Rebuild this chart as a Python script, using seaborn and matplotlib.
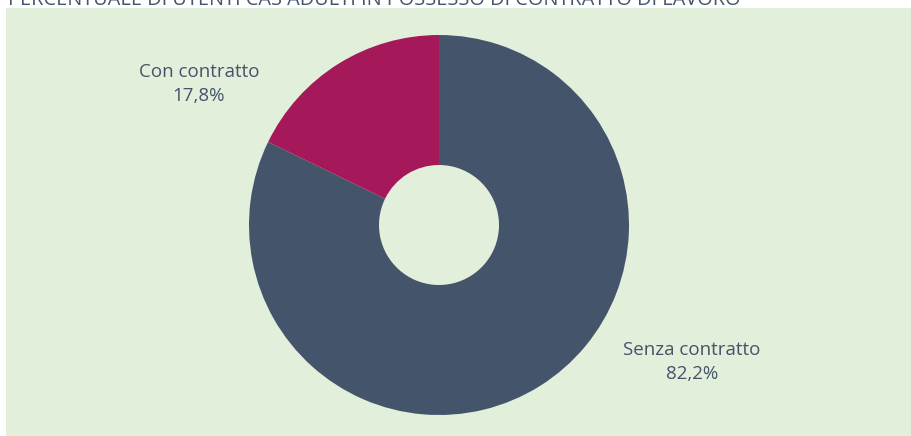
import matplotlib
matplotlib.use("Agg")
import matplotlib.pyplot as plt
from matplotlib.patches import Rectangle
import seaborn as sns

categories = ["Senza contratto", "Con contratto"]
values = [82.2, 17.8]
colors = ["#44546A", "#A5195B"]
title = "PERCENTUALE DI UTENTI CAS ADULTI IN POSSESSO DI CONTRATTO DI LAVORO"

sns.set_theme(style="white")
plt.rcParams["font.family"] = ["Open Sans", "DejaVu Sans"]

W, H = 912, 436
fig = plt.figure(figsize=(W / 100, H / 100), dpi=100)
fig.patch.set_facecolor("white")

# light green panel behind the chart
fig.patches.append(Rectangle((6 / W, 0), 1 - 6 / W, (H - 8) / H,
                             transform=fig.transFigure, facecolor="#E2EFDA",
                             edgecolor="none", zorder=-5))

# title, partly above the top edge
fig.text(8 / W, 1.0, title, ha="left", va="center", fontsize=14.3,
         color="#44546A")

# donut
cx, cy, r = 439, H - 225, 190
ax = fig.add_axes([(cx - r) / W, (cy - r) / H, 2 * r / W, 2 * r / H])
ax.set_zorder(2)
ax.set_facecolor("none")
ax.pie(values, colors=colors, startangle=90, counterclock=False, radius=1,
       wedgeprops=dict(width=130 / 190, edgecolor="none"))
ax.set_xlim(-1, 1)
ax.set_ylim(-1, 1)
ax.set_aspect("equal")
ax.axis("off")

def fmt(v):
    return f"{v:.1f}%".replace(".", ",")

label_pos = {"Senza contratto": (692, 362), "Con contratto": (199, 84)}
for name, v in zip(categories, values):
    px, py = label_pos[name]
    fig.text(px / W, 1 - py / H, f"{name}\n{fmt(v)}", ha="center", va="center",
             fontsize=13.5, color="#44546A", linespacing=1.45)

fig.savefig("out.png", dpi=100)
